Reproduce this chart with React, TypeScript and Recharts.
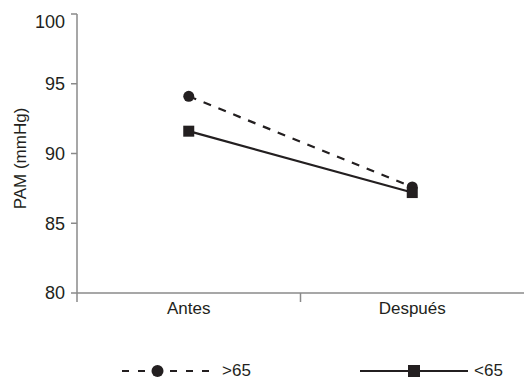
import { LineChart, Line, XAxis, YAxis, Legend } from "recharts";

const categories = ["Antes", "Después"];
const over65 = [94.1, 87.6];
const under65 = [91.6, 87.2];
const yTicks = [80, 85, 90, 95, 100];

const data = categories.map((name, i) => ({
  name,
  over: over65[i],
  under: under65[i],
}));

const INK = "#231f20";
const AXIS = "#8a8a8a";
const FONT = "'Liberation Sans', Arial, sans-serif";

const Square = (props: any) => {
  const { cx, cy } = props;
  if (cx == null || cy == null) return null;
  return <rect x={cx - 5.5} y={cy - 5.5} width={11} height={11} fill={INK} />;
};

// top label sits a little below its tick in the original
const YTick = (props: any) => {
  const { x, y, payload } = props;
  const shift = payload.value === yTicks[yTicks.length - 1] ? 8 : 0;
  return (
    <text x={x} y={y + shift} dy="0.36em" textAnchor="end" fontSize={18} fill={INK} fontFamily={FONT}>
      {payload.value}
    </text>
  );
};

// category label plus a tick mark at the left edge of its band
const XTick = (props: any) => {
  const { x, y, payload } = props;
  const edge = x - (payload.offset || 0);
  return (
    <g>
      <line x1={edge} x2={edge} y1={y} y2={y + 9} stroke={AXIS} strokeWidth={1.5} />
      <text x={x} y={y + 21} textAnchor="middle" fontSize={17} fill={INK} fontFamily={FONT}>
        {payload.value}
      </text>
    </g>
  );
};

const YLabel = (props: any) => {
  const { viewBox } = props;
  const cx = 26;
  const cy = viewBox.y + viewBox.height / 2 + 5;
  return (
    <text
      x={cx}
      y={cy}
      transform={`rotate(-90, ${cx}, ${cy})`}
      textAnchor="middle"
      fontSize={17}
      fill={INK}
      fontFamily={FONT}
    >
      PAM (mmHg)
    </text>
  );
};

const LegendBox = () => (
  <svg width={524} height={56} style={{ display: "block" }}>
    <g transform="translate(0,47)">
      <line x1={122} x2={209} y1={0} y2={0} stroke={INK} strokeWidth={2} strokeDasharray="7 9" />
      <circle cx={157.5} cy={0} r={6} fill={INK} />
      <text x={222} y={4.5} fontSize={17} fill={INK} fontFamily={FONT}>&gt;65</text>
      <line x1={360} x2={468} y1={0} y2={0} stroke={INK} strokeWidth={2} />
      <rect x={408} y={-6} width={12} height={12} fill={INK} />
      <text x={474} y={4.5} fontSize={17} fill={INK} fontFamily={FONT}>&lt;65</text>
    </g>
  </svg>
);

export default function App() {
  return (
    <div style={{ position: "absolute", left: 0, top: 0, background: "#fff" }}>
      <LineChart
        width={524}
        height={380}
        data={data}
        margin={{ top: 14, right: 0, bottom: 0, left: 0 }}
      >
        <XAxis
          dataKey="name"
          scale="band"
          axisLine={{ stroke: AXIS, strokeWidth: 1.5 }}
          tickLine={false}
          tickSize={0}
          tickMargin={0}
          height={31}
          tick={<XTick />}
        />
        <YAxis
          domain={[80, 100]}
          ticks={yTicks}
          width={77}
          axisLine={{ stroke: AXIS, strokeWidth: 1.5 }}
          tickLine={{ stroke: AXIS, strokeWidth: 1.5 }}
          tickSize={6}
          tickMargin={6}
          tick={<YTick />}
          label={<YLabel />}
        />
        <Legend verticalAlign="bottom" height={56} content={<LegendBox />} />
        <Line
          dataKey="over"
          name=">65"
          stroke={INK}
          strokeWidth={2.2}
          strokeDasharray="8 8"
          dot={{ r: 5.5, fill: INK, stroke: INK, strokeWidth: 0 }}
          isAnimationActive={false}
        />
        <Line
          dataKey="under"
          name="<65"
          stroke={INK}
          strokeWidth={2.2}
          dot={<Square />}
          isAnimationActive={false}
        />
      </LineChart>
    </div>
  );
}
